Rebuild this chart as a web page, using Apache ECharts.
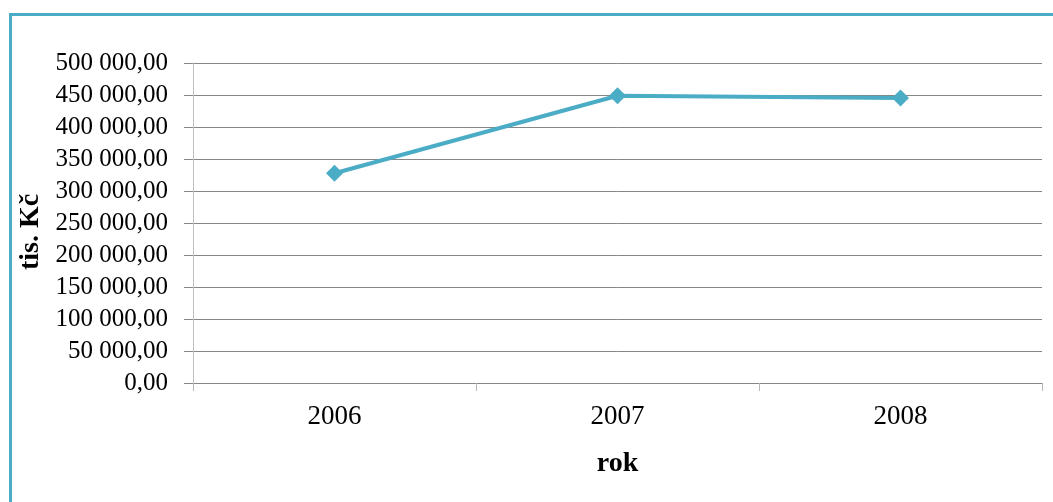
<!DOCTYPE html>
<html>
<head>
<meta charset="utf-8">
<script src="https://cdn.jsdelivr.net/npm/echarts@6/dist/echarts.min.js"></script>
<style>
html,body{margin:0;padding:0;background:#fff;}
#chart{width:1053px;height:502px;}
</style>
</head>
<body>
<div id="chart"></div>
<script>
const categories = ['2006', '2007', '2008'];
const values = [327800, 448800, 445200];
const yMin = 0, yMax = 500000, yInterval = 50000;

function fmt(v) {
  const s = Math.round(v).toString().replace(/\B(?=(\d{3})+(?!\d))/g, ' ');
  return s + ',00';
}

const chart = echarts.init(document.getElementById('chart'));
chart.setOption({
  animation: false,
  backgroundColor: '#ffffff',
  graphic: [{
    type: 'rect',
    shape: { x: 10.5, y: 14.5, width: 1200, height: 700 },
    style: { fill: 'none', stroke: '#4bacc6', lineWidth: 3 },
    silent: true
  }],
  grid: { left: 193, right: 11, top: 63, bottom: 119 },
  xAxis: {
    type: 'category',
    data: categories,
    boundaryGap: true,
    name: 'rok',
    nameLocation: 'middle',
    nameGap: 67,
    nameTextStyle: { fontFamily: 'Liberation Serif', fontSize: 28, fontWeight: 'bold', color: '#000' },
    axisLine: { lineStyle: { color: '#868686', width: 1 } },
    axisTick: { show: true, length: 8, alignWithLabel: false, lineStyle: { color: '#b8b8b8' } },
    axisLabel: { fontFamily: 'Liberation Serif', fontSize: 27, color: '#000', margin: 20 },
    splitLine: { show: false }
  },
  yAxis: {
    type: 'value',
    min: yMin, max: yMax, interval: yInterval,
    name: 'tis. Kč',
    nameLocation: 'middle',
    nameRotate: 90,
    nameGap: 148,
    nameTextStyle: { fontFamily: 'Liberation Serif', fontSize: 28, fontWeight: 'bold', color: '#000', padding: [0, 18, 0, 0] },
    axisLine: { show: true, lineStyle: { color: '#c0c0c0', width: 1 } },
    axisTick: { show: true, length: 9, lineStyle: { color: '#868686' } },
    axisLabel: { fontFamily: 'Liberation Serif', fontSize: 25, color: '#000', margin: 25, formatter: fmt },
    splitLine: { show: true, lineStyle: { color: '#868686', width: 1 } }
  },
  series: [{
    type: 'line',
    data: values,
    symbol: 'diamond',
    symbolSize: 17,
    lineStyle: { color: '#4bacc6', width: 4 },
    itemStyle: { color: '#4bacc6' }
  }]
});
</script>
</body>
</html>
